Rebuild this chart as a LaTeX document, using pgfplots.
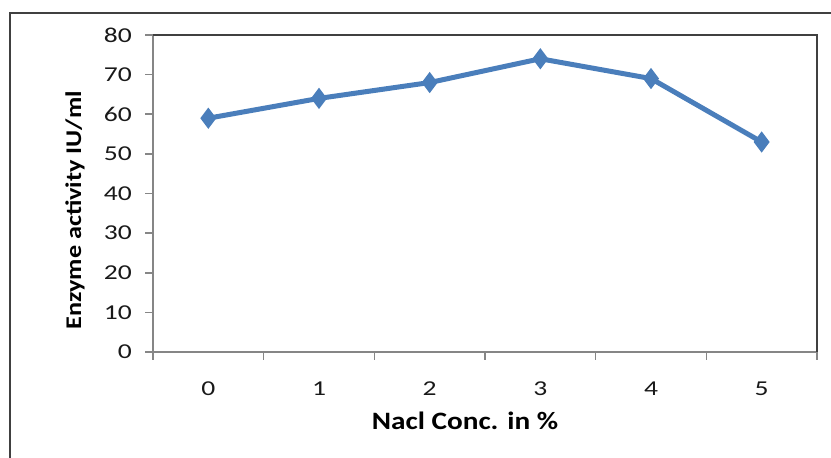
\documentclass[border=0pt]{standalone}
\usepackage{pgfplots}
\pgfplotsset{compat=1.18}
\usepackage{fontspec}
\setmainfont{Carlito}
\newfontfamily\tickfont[FakeStretch=1.3]{Carlito}
\newfontfamily\lblfont[FakeStretch=1.17]{Carlito}
\definecolor{serblue}{HTML}{4A7EBB}
\definecolor{axgray}{HTML}{868686}
\definecolor{frame}{HTML}{404040}
\begin{document}
\begin{tikzpicture}[x=1pt,y=1pt]
\useasboundingbox (0,0) rectangle (415.5,229);
\draw[frame, line width=1pt] (4.75,-5) -- (4.75,222.5) -- (425,222.5);
\begin{axis}[
  at={(76.5pt,53pt)}, anchor=south west,
  width=332pt, height=158.5pt, scale only axis,
  xmin=-0.5, xmax=5.5, ymin=0, ymax=80,
  xtick={0,1,2,3,4,5},
  major x tick style={draw=none},
  minor xtick={-0.5,0.5,1.5,2.5,3.5,4.5,5.5},
  ytick={0,10,...,80},
  tick align=outside, tick pos=left,
  major tick length=4pt, minor tick length=4pt,
  every tick/.style={axgray, line width=0.8pt},
  axis line style={axgray, line width=0.8pt},
  /pgf/number format/assume math mode=true,
  ticklabel style={font=\tickfont\fontsize{10.6}{12}\selectfont, text=black!90},
  yticklabel style={xshift=-3pt},
  xticklabel style={yshift=-7.5pt},
  xlabel={Nacl Conc. in \%},
  xlabel style={font=\lblfont\fontsize{12.5}{14}\selectfont\bfseries, at={(axis description cs:0.5,0)}, anchor=center, yshift=-34.5pt, xshift=-10pt},
  ylabel={Enzyme activity IU/ml},
  ylabel style={font=\lblfont\fontsize{11.2}{13}\selectfont\bfseries, at={(axis description cs:0,0.5)}, anchor=center, xshift=-8.5pt, yshift=39pt},
  after end axis/.code={\draw[frame, line width=0.8pt] (rel axis cs:0,1) -- (rel axis cs:1,1) -- (rel axis cs:1,0);},
  clip=false,
]
\addplot[serblue, line width=2.5pt, mark=diamond*, mark size=4.5pt, mark options={solid, fill=serblue, line width=1pt}]
coordinates {(0,59) (1,64) (2,68) (3,74) (4,69) (5,53)};
\end{axis}
\end{tikzpicture}
\end{document}
